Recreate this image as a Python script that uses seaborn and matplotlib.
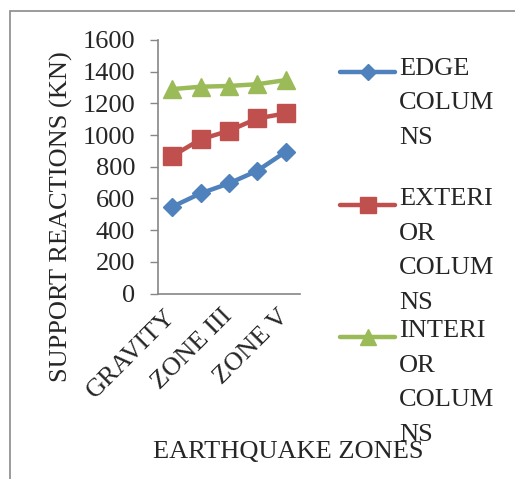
import matplotlib
matplotlib.use("Agg")
import matplotlib.pyplot as plt
import seaborn as sns
import pandas as pd
from matplotlib.lines import Line2D
from matplotlib.patches import Rectangle

# ---- data ----
categories = ["GRAVITY", "ZONE II", "ZONE III", "ZONE IV", "ZONE V"]
edge_columns = [547, 632, 695, 775, 895]
exterior_columns = [867, 973, 1027, 1105, 1137]
interior_columns = [1290, 1305, 1310, 1321, 1347]
series_names = ["EDGE\nCOLUM\nNS", "EXTERI\nOR\nCOLUM\nNS", "INTERI\nOR\nCOLUM\nNS"]
shown_tick_positions = [0, 2, 4]
shown_tick_labels = ["GRAVITY", "ZONE III", "ZONE V"]
y_ticks = [0, 200, 400, 600, 800, 1000, 1200, 1400, 1600]
x_title = "EARTHQUAKE ZONES"
y_title = "SUPPORT REACTIONS (KN)"

df = pd.DataFrame({
    "zone": categories * 3,
    "value": edge_columns + exterior_columns + interior_columns,
    "series": [series_names[0]] * 5 + [series_names[1]] * 5 + [series_names[2]] * 5,
})

# ---- style ----
sns.set_theme(style="ticks")
plt.rcParams['font.family'] = ['Liberation Serif', 'DejaVu Serif']
FS = 19
GRAY = "#868686"
colors = ["#4F81BD", "#C0504D", "#9BBB59"]
markers = ["D", "s", "^"]
msizes = [9.5, 13, 13.5]

W, H = 515, 479
fig = plt.figure(figsize=(W / 100, H / 100), dpi=100)
bottom_px, top_px, left_px, right_px = 293.5, 40, 158, 300
ax = fig.add_axes([left_px / W, 1 - bottom_px / H, (right_px - left_px) / W, (bottom_px - top_px) / H])

for name, c, m, ms in zip(series_names, colors, markers, msizes):
    sub = df[df["series"] == name]
    sns.lineplot(data=sub, x="zone", y="value", color=c, marker=m, markersize=ms,
                 linewidth=3.2, markeredgecolor=c, markeredgewidth=1, sort=False,
                 ax=ax, legend=False)

ax.set_xlim(-0.5, len(categories) - 0.5)
ax.set_ylim(0, 1600)
ax.set_yticks(y_ticks)
ax.set_yticklabels([str(v) for v in y_ticks], fontsize=FS)
ax.set_xticks(shown_tick_positions)
ax.set_xticklabels(shown_tick_labels, rotation=45, ha="right", va="center",
                   rotation_mode="anchor", fontsize=FS)
ax.tick_params(axis="x", length=0, pad=14)
ax.tick_params(axis="y", length=5.8, width=1, color=GRAY, pad=10.5, direction="out", left=True)
for s in ["top", "right"]:
    ax.spines[s].set_visible(False)
for s in ["left", "bottom"]:
    ax.spines[s].set_color(GRAY)
    ax.spines[s].set_linewidth(1.2)
ax.set_facecolor("none")

ax.set_ylabel(y_title, fontsize=FS)
ax.yaxis.set_label_coords((61 - left_px) / (right_px - left_px), (bottom_px - 216.5) / (bottom_px - top_px))
ax.yaxis.label.set_verticalalignment("center")
ax.set_xlabel(x_title, fontsize=FS)
ax.xaxis.set_label_coords((288 - left_px) / (right_px - left_px), (bottom_px - 452) / (bottom_px - top_px))
ax.xaxis.label.set_verticalalignment("center")

# ---- legend (manual, handle aligned to first text line) ----
handle_y = [71.7, 205, 337]
LINE_PX = 31.7
for name, c, m, ms, yy in zip(series_names, colors, markers, msizes, handle_y):
    yf = 1 - yy / H
    fig.add_artist(Line2D([340 / W, 395 / W], [yf, yf], transform=fig.transFigure,
                          color=c, linewidth=3.2, solid_capstyle="round"))
    fig.add_artist(Line2D([367.5 / W], [yf], transform=fig.transFigure, color=c,
                          marker=m, markersize=ms * 0.9, markeredgecolor=c, linestyle="none"))
    nlines = name.count("\n") + 1
    last_baseline = yy + 8.7 + (nlines - 1) * LINE_PX
    fig.text(399 / W, 1 - last_baseline / H, name, fontsize=FS, va="baseline", ha="left",
             linespacing=1.74)

# ---- outer border ----
fig.add_artist(Rectangle((10 / W, -0.2), 2, (1 - 11 / H) + 0.2, transform=fig.transFigure,
                         fill=False, edgecolor="#8a8a8a", linewidth=1.2))

fig.savefig("out.png", dpi=100)
